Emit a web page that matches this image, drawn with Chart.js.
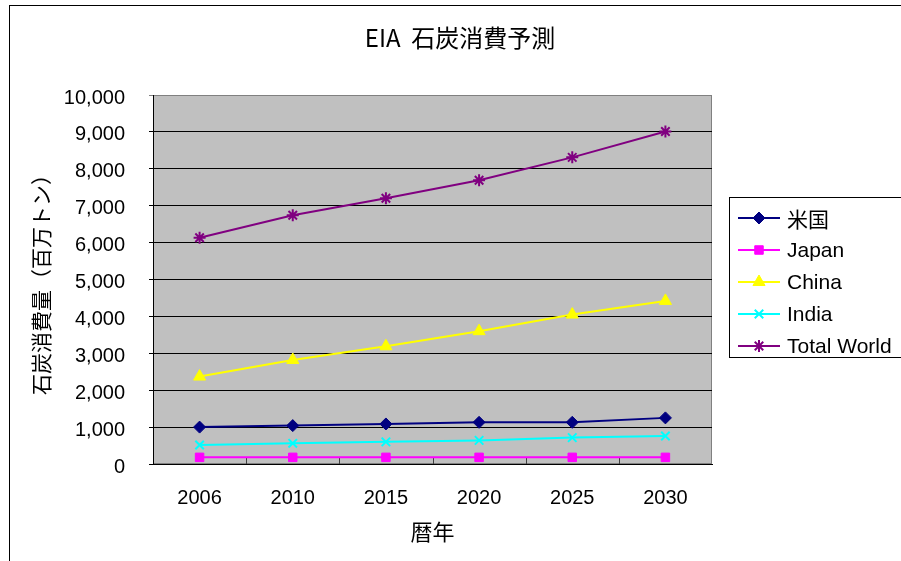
<!DOCTYPE html>
<html>
<head>
<meta charset="utf-8">
<title>EIA 石炭消費予測</title>
<script src="https://cdn.jsdelivr.net/npm/chart.js@4/dist/chart.umd.min.js"></script>
<style>
  html, body { margin: 0; padding: 0; background: #fff; }
  canvas { display: block; }
</style>
</head>
<body>
<canvas id="coalChart" width="901" height="561"></canvas>
<script>
// Data (million tonnes)
const years = ['2006', '2010', '2015', '2020', '2025', '2030'];
const usa = [1000, 1040, 1085, 1130, 1130, 1250];
const japan = [180, 180, 180, 180, 180, 180];
const china = [2370, 2820, 3190, 3600, 4050, 4420];
const india = [515, 560, 600, 640, 715, 760];
const world = [6130, 6740, 7200, 7690, 8310, 9010];

const seriesNames = ['米国', 'Japan', 'China', 'India', 'Total World'];
const seriesColors = ['#000080', '#FF00FF', '#FFFF00', '#00FFFF', '#800080'];
const seriesMarkers = ['rectRot', 'rect', 'triangle', 'crossRot', 'star'];

const yTicks = { min: 0, max: 10000, step: 1000 };

const latin = '"Liberation Sans", Arial, sans-serif';
const cjk = '"Noto Sans CJK JP", "Noto Sans", sans-serif';

function makeDataset(i, values) {
    return {
        label: seriesNames[i],
        data: values,
        borderColor: seriesColors[i],
        backgroundColor: seriesColors[i],
        borderWidth: 2,
        pointStyle: seriesMarkers[i],
        pointRadius: seriesMarkers[i] === 'triangle' ? 7 : 6,
        pointBorderWidth: seriesMarkers[i] === 'crossRot' || seriesMarkers[i] === 'star' ? 2 : 1,
        pointBackgroundColor: seriesColors[i],
        pointBorderColor: seriesColors[i],
        tension: 0
    };
}

// Frame, plot background, title and boxed legend
const decorations = {
    id: 'decorations',
    beforeDraw(chart) {
        const { ctx, chartArea: a } = chart;
        ctx.save();
        ctx.fillStyle = '#fff';
        ctx.fillRect(0, 0, chart.width, chart.height);
        ctx.strokeStyle = '#000';
        ctx.lineWidth = 1;
        ctx.strokeRect(9.5, 5.5, chart.width + 20, chart.height + 20);
        ctx.fillStyle = '#C0C0C0';
        ctx.fillRect(a.left, a.top, a.right - a.left, a.bottom - a.top);
        ctx.strokeStyle = '#808080';
        ctx.strokeRect(a.left + 0.5, a.top + 0.5, a.right - a.left - 1, a.bottom - a.top - 1);

        ctx.fillStyle = '#000';
        ctx.font = '24px ' + cjk;
        ctx.textAlign = 'center';
        ctx.textBaseline = 'middle';
        ctx.fillText('EIA  石炭消費予測', 460, 38);
        ctx.restore();
    },
    beforeDatasetsDraw(chart) {
        // short tick marks between categories, pointing up into the plot
        const { ctx, chartArea: a } = chart;
        const x = chart.scales.x;
        ctx.save();
        ctx.strokeStyle = '#404040';
        ctx.lineWidth = 1;
        ctx.beginPath();
        for (let i = 0; i < years.length - 1; i++) {
            const px = Math.round((x.getPixelForTick(i) + x.getPixelForTick(i + 1)) / 2) + 0.5;
            ctx.moveTo(px, a.bottom);
            ctx.lineTo(px, a.bottom - 6);
        }
        ctx.stroke();
        ctx.restore();
    },
    afterDraw(chart) {
        const { ctx } = chart;
        ctx.save();
        ctx.fillStyle = '#fff';
        ctx.fillRect(729, 197, 200, 161);
        ctx.strokeStyle = '#000';
        ctx.lineWidth = 1;
        ctx.strokeRect(729.5, 197.5, 200, 160);

        chart.data.datasets.forEach((ds, i) => {
            const y = 218 + i * 32;
            ctx.strokeStyle = ds.borderColor;
            ctx.fillStyle = ds.backgroundColor;
            ctx.lineWidth = 2;
            ctx.beginPath();
            ctx.moveTo(738, y);
            ctx.lineTo(780, y);
            ctx.stroke();
            if (Chart.helpers && Chart.helpers.drawPoint) {
                ctx.lineWidth = ds.pointBorderWidth;
                Chart.helpers.drawPoint(ctx, {
                    pointStyle: ds.pointStyle,
                    radius: ds.pointRadius,
                    rotation: 0,
                    borderWidth: ds.pointBorderWidth
                }, 759, y);
            }
            ctx.fillStyle = '#000';
            ctx.font = '21px ' + (i === 0 ? cjk : latin);
            ctx.textAlign = 'left';
            ctx.textBaseline = 'middle';
            ctx.fillText(ds.label, 787, y + 1);
        });
        ctx.restore();
    }
};

new Chart(document.getElementById('coalChart').getContext('2d'), {
    type: 'line',
    data: {
        labels: years,
        datasets: [
            makeDataset(0, usa),
            makeDataset(1, japan),
            makeDataset(2, china),
            makeDataset(3, india),
            makeDataset(4, world)
        ]
    },
    options: {
        responsive: false,
        animation: false,
        layout: { padding: { left: 10, right: 189, top: 95, bottom: 10 } },
        plugins: {
            legend: { display: false },
            title: { display: false },
            tooltip: { enabled: false }
        },
        scales: {
            x: {
                offset: true,
                afterFit: s => { s.height = 87; },
                grid: { drawOnChartArea: false, drawTicks: false, offset: true },
                border: { display: true, color: '#000', width: 1 },
                ticks: {
                    color: '#000',
                    padding: 22,
                    font: { family: latin, size: 20 }
                },
                title: {
                    display: true,
                    text: '暦年',
                    color: '#000',
                    font: { family: cjk, size: 22 },
                    padding: { top: 0, bottom: 6 }
                }
            },
            y: {
                min: yTicks.min,
                max: yTicks.max,
                afterFit: s => { s.width = 143; },
                grid: {
                    color: c => (c.tick && c.tick.value === yTicks.max ? '#808080' : '#000'),
                    lineWidth: 1,
                    tickLength: 4
                },
                border: { display: true, color: '#000', width: 1 },
                ticks: {
                    stepSize: yTicks.step,
                    color: '#000',
                    padding: 24,
                    labelOffset: 3,
                    font: { family: latin, size: 20 },
                    callback: v => v.toLocaleString('en-US')
                },
                title: {
                    display: true,
                    text: '石炭消費量（百万トン）',
                    color: '#000',
                    font: { family: cjk, size: 21 },
                    padding: { top: 18, bottom: 0 }
                }
            }
        }
    },
    plugins: [decorations]
});
</script>
</body>
</html>
